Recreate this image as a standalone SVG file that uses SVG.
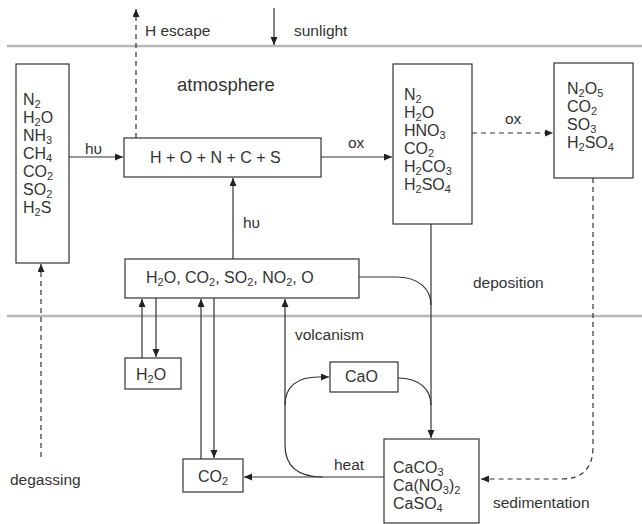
<svg xmlns="http://www.w3.org/2000/svg" width="642" height="524" viewBox="0 0 642 524">
<style>
.box{fill:#fff;stroke:#333;stroke-width:1.2}
.t{font-family:"Liberation Sans",Arial,sans-serif;font-size:16px;fill:#333}
.l{font-family:"Liberation Sans",Arial,sans-serif;font-size:15.5px;fill:#333}
.s{font-size:11px}
.c{fill:none;stroke:#333;stroke-width:1.2}
.d{stroke-dasharray:5 4}
.sep{stroke:#b8b8b8;stroke-width:2.5}
</style>
<defs>
<marker id="a" markerUnits="userSpaceOnUse" markerWidth="9" markerHeight="8" refX="8" refY="3.5" orient="auto"><path d="M0,0 L8,3.5 L0,7 z" fill="#222"/></marker>
</defs>
<rect width="642" height="524" fill="#fff"/>
<line class="sep" x1="7" y1="46" x2="642" y2="46"/>
<line class="sep" x1="7" y1="316" x2="642" y2="316"/>

<g id="labels">
<text class="l" x="145" y="36">H escape</text>
<text class="l" x="294" y="36">sunlight</text>
<text class="l" x="177" y="91" style="font-size:18.5px">atmosphere</text>
<text class="l" x="85" y="154">hυ</text>
<text class="l" x="243" y="228">hυ</text>
<text class="l" x="348" y="148">ox</text>
<text class="l" x="505" y="124">ox</text>
<text class="l" x="473" y="288">deposition</text>
<text class="l" x="295" y="340">volcanism</text>
<text class="l" x="334" y="470">heat</text>
<text class="l" x="493" y="508">sedimentation</text>
<text class="l" x="10" y="485">degassing</text>
</g>

<g id="connectors">
<path class="c d" d="M136,138 V9" marker-end="url(#a)"/>
<path class="c" d="M274,8 V45" marker-end="url(#a)"/>
<path class="c" d="M69,157 H123" marker-end="url(#a)"/>
<path class="c" d="M233,259 V178" marker-end="url(#a)"/>
<path class="c" d="M321,157 H392" marker-end="url(#a)"/>
<path class="c d" d="M472,133 H553" marker-end="url(#a)"/>
<path class="c d" d="M593,178 V447 Q593,479 561,479 H481" marker-end="url(#a)"/>
<path class="c" d="M431,224 V438" marker-end="url(#a)"/>
<path class="c" d="M359,277 H396 C420,277 431,290 431,305"/>
<path class="c" d="M398,378 C420,378 431,390 431,405"/>
<path class="c" d="M142,358 V299" marker-end="url(#a)"/>
<path class="c" d="M156,298 V357" marker-end="url(#a)"/>
<path class="c" d="M201,459 V299" marker-end="url(#a)"/>
<path class="c" d="M214,298 V458" marker-end="url(#a)"/>
<path class="c" d="M384,477 H244" marker-end="url(#a)"/>
<path class="c" d="M323,477 C298,477 285,466 285,445 V299" marker-end="url(#a)"/>
<path class="c" d="M285,405 C285,386 298,377 318,377 H329" marker-end="url(#a)"/>
<path class="c d" d="M41,457 V264" marker-end="url(#a)"/>
</g>

<g id="volcanic-gases">
<rect class="box" x="16" y="64" width="53" height="199"/>
<text class="t" x="23" y="105">N<tspan class="s" dy="3">2</tspan></text>
<text class="t" x="23" y="123">H<tspan class="s" dy="3">2</tspan><tspan dy="-3">O</tspan></text>
<text class="t" x="23" y="141">NH<tspan class="s" dy="3">3</tspan></text>
<text class="t" x="23" y="159">CH<tspan class="s" dy="3">4</tspan></text>
<text class="t" x="23" y="177">CO<tspan class="s" dy="3">2</tspan></text>
<text class="t" x="23" y="195">SO<tspan class="s" dy="3">2</tspan></text>
<text class="t" x="23" y="213">H<tspan class="s" dy="3">2</tspan><tspan dy="-3">S</tspan></text>
</g>

<g id="atoms">
<rect class="box" x="124" y="138" width="197" height="39"/>
<text class="t" x="150" y="163">H + O + N + C + S</text>
</g>

<g id="oxidized">
<rect class="box" x="393" y="64" width="79" height="160"/>
<text class="t" x="404" y="100">N<tspan class="s" dy="3">2</tspan></text>
<text class="t" x="404" y="118">H<tspan class="s" dy="3">2</tspan><tspan dy="-3">O</tspan></text>
<text class="t" x="404" y="136">HNO<tspan class="s" dy="3">3</tspan></text>
<text class="t" x="404" y="154">CO<tspan class="s" dy="3">2</tspan></text>
<text class="t" x="404" y="172">H<tspan class="s" dy="3">2</tspan><tspan dy="-3">CO</tspan><tspan class="s" dy="3">3</tspan></text>
<text class="t" x="404" y="190">H<tspan class="s" dy="3">2</tspan><tspan dy="-3">SO</tspan><tspan class="s" dy="3">4</tspan></text>
</g>

<g id="further-oxidized">
<rect class="box" x="554" y="63" width="79" height="115"/>
<text class="t" x="567" y="94">N<tspan class="s" dy="3">2</tspan><tspan dy="-3">O</tspan><tspan class="s" dy="3">5</tspan></text>
<text class="t" x="567" y="112">CO<tspan class="s" dy="3">2</tspan></text>
<text class="t" x="567" y="130">SO<tspan class="s" dy="3">3</tspan></text>
<text class="t" x="567" y="148">H<tspan class="s" dy="3">2</tspan><tspan dy="-3">SO</tspan><tspan class="s" dy="3">4</tspan></text>
</g>

<g id="gases">
<rect class="box" x="125" y="259" width="234" height="39"/>
<text class="t" x="146" y="283">H<tspan class="s" dy="3">2</tspan><tspan dy="-3">O, CO</tspan><tspan class="s" dy="3">2</tspan><tspan dy="-3">, SO</tspan><tspan class="s" dy="3">2</tspan><tspan dy="-3">, NO</tspan><tspan class="s" dy="3">2</tspan><tspan dy="-3">, O</tspan></text>
</g>

<g id="water">
<rect class="box" x="125" y="358" width="56" height="31"/>
<text class="t" x="136" y="380">H<tspan class="s" dy="3">2</tspan><tspan dy="-3">O</tspan></text>
</g>

<g id="carbon-dioxide">
<rect class="box" x="183" y="459" width="60" height="33"/>
<text class="t" x="198" y="482">CO<tspan class="s" dy="3">2</tspan></text>
</g>

<g id="lime">
<rect class="box" x="330" y="362" width="68" height="30"/>
<text class="t" x="345" y="382">CaO</text>
</g>

<g id="sediments">
<rect class="box" x="384" y="439" width="95" height="84"/>
<text class="t" x="393" y="473">CaCO<tspan class="s" dy="3">3</tspan></text>
<text class="t" x="393" y="491">Ca(NO<tspan class="s" dy="3">3</tspan><tspan dy="-3">)</tspan><tspan class="s" dy="3">2</tspan></text>
<text class="t" x="393" y="509">CaSO<tspan class="s" dy="3">4</tspan></text>
</g>
</svg>
